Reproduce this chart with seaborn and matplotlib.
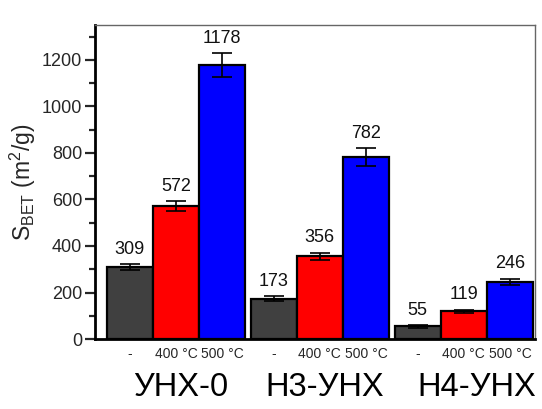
import matplotlib
matplotlib.use("Agg")
import matplotlib.pyplot as plt
import matplotlib.transforms as mtransforms
import seaborn as sns
import pandas as pd
import numpy as np

# Samples, activation treatments and BET surface areas
samples = ["УНХ-0", "Н3-УНХ", "Н4-УНХ"]
treatments = ["-", "400 °C", "500 °C"]
s_bet = [[309, 572, 1178],
         [173, 356, 782],
         [55, 119, 246]]
s_err = [[14, 20, 50],
         [10, 15, 39],
         [6, 8, 14]]
bar_colors = ["#404040", "#ff0000", "#0000ff"]

rows = []
for i, smp in enumerate(samples):
    for j, tr in enumerate(treatments):
        rows.append({"sample": smp, "treatment": tr,
                     "value": s_bet[i][j], "err": s_err[i][j]})
df = pd.DataFrame(rows)

sns.set_theme(style="ticks")
plt.rcParams["font.family"] = ["Liberation Sans", "DejaVu Sans"]
plt.rcParams["mathtext.fontset"] = "custom"
plt.rcParams["mathtext.rm"] = "Liberation Sans"
plt.rcParams["mathtext.it"] = "Liberation Sans"

fig = plt.figure(figsize=(5.42, 4.09), dpi=100)
ax = fig.add_axes([0.175, 0.171, 0.812, 0.768])

sns.barplot(data=df, x="sample", y="value", hue="treatment",
            order=samples, hue_order=treatments,
            palette=bar_colors, width=0.96, errorbar=None,
            edgecolor="black", linewidth=1.6, saturation=1,
            legend=False, ax=ax)

# Bar centres in seaborn's own order (hue-major)
centers = [p.get_x() + p.get_width() / 2 for p in ax.patches]

vals = {(r["sample"], r["treatment"]): (r["value"], r["err"]) for _, r in df.iterrows()}
tick_pos, tick_lab = [], []
k = 0
for j, tr in enumerate(treatments):
    for i, smp in enumerate(samples):
        x = centers[k]
        v, e = vals[(smp, tr)]
        ax.errorbar(x, v, yerr=e, fmt="none", ecolor="black",
                    elinewidth=1.2, capsize=7, capthick=1.2, zorder=5)
        ax.annotate(f"{v}", (x, v + e), xytext=(0, 4.5),
                    textcoords="offset points", ha="center", va="bottom",
                    fontsize=13, color="#111111")
        tick_pos.append(x)
        tick_lab.append(tr)
        k += 1

ax.set_xticks(tick_pos)
ax.set_xticklabels(tick_lab, fontsize=10)
ax.tick_params(axis="x", length=0, pad=6)
ax.set_xlim(-0.563, 2.494)

ax.set_ylim(0, 1350)
ax.set_yticks(np.arange(0, 1201, 200))
ax.set_yticks(np.arange(100, 1301, 200), minor=True)
ax.tick_params(axis="y", which="major", length=7, width=1.6, labelsize=13, pad=2)
ax.tick_params(axis="y", which="minor", length=4, width=1.6)
ax.set_xlabel("")
ax.set_ylabel(r"S$_{\mathrm{BET}}$ (m$^2$/g)", fontsize=16.5, labelpad=3)

for side in ["left", "bottom"]:
    ax.spines[side].set_linewidth(2)
    ax.spines[side].set_color("black")
for side in ["top", "right"]:
    ax.spines[side].set_linewidth(1)
    ax.spines[side].set_color("#666666")

# Sample names below each group
trans = mtransforms.blended_transform_factory(ax.transData, ax.transAxes)
offsets = [0.03, 0.03, 0.09]
for i, smp in enumerate(samples):
    ax.text(i + offsets[i], -0.155, smp, transform=trans, ha="center",
            va="center", fontsize=23.5, color="black")

fig.savefig("out.png", dpi=100)
